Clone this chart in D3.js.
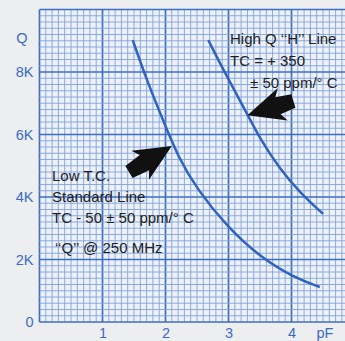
<!DOCTYPE html>
<html>
<head>
<meta charset="utf-8">
<script src="https://cdn.jsdelivr.net/npm/d3@7"></script>
<style>
    body { margin: 0; background: #eceef0; }
    svg { display: block; }
    .tick text { font-family: "Liberation Sans", Arial, sans-serif; }
</style>
</head>
<body>
<div id="chart"></div>
<script>
    "use strict";

    //curve readings off the scanned sheet: capacitance (pF) vs Q
    var lowPf  = [1.48, 1.70, 1.96, 2.20, 2.50, 2.98, 3.50, 4.02, 4.45];
    var lowQ   = [9020, 7750, 6460, 5280, 4250, 3040, 2080, 1440, 1120];
    var highPf = [2.68, 2.94, 3.29, 3.50, 3.82, 4.14, 4.50];
    var highQ  = [9020, 7980, 6690, 5860, 4880, 4130, 3460];
    var yTicks = [0, 2000, 4000, 6000, 8000];
    var yTickLabels = ["0", "2K", "4K", "6K", "8K"];
    var xTicks = [1, 2, 3, 4];
    var lowNotes = ["Low T.C.", "Standard Line", "TC - 50 \u00b1 50 ppm/\u00b0 C"];
    var freqNote = "\u2018\u2018Q\u2019\u2019 @ 250 MHz";
    var highNotes = ["High Q \u2018\u2018H\u2019\u2019 Line", "TC = + 350", "\u00b1 50 ppm/\u00b0 C"];

    var W = 345, H = 341,
        m = {left: 39.5, top: 9.5, bottom: 322},
        blue = "#3a6cc4", ink = "#1e1e1e";

    var svg = d3.select("#chart").append("svg")
        .attr("width", W).attr("height", H);

    var x = d3.scaleLinear().domain([0, 5]).range([m.left, m.left + 315]);
    var y = d3.scaleLinear().domain([0, 10000]).range([m.bottom, m.top]);

    //graph paper
    svg.append("rect")
        .attr("x", x(0)).attr("y", y(10000))
        .attr("width", W - x(0)).attr("height", y(0) - y(10000))
        .attr("fill", "#eef2f8");

    var grid = svg.append("g");
    d3.range(0, 50.5, 1).forEach(function (i) {
        var v = i / 10, major = i % 10 === 0;
        grid.append("line")
            .attr("x1", x(v)).attr("x2", x(v))
            .attr("y1", y(0)).attr("y2", y(10000))
            .attr("stroke", major ? "#3d6ec6" : "#7fa3dc")
            .attr("stroke-width", major ? 1.7 : 0.9);
    });
    d3.range(0, 50.5, 1).forEach(function (i) {
        var v = i * 200, major = i % 10 === 0;
        grid.append("line")
            .attr("x1", x(0)).attr("x2", W)
            .attr("y1", y(v)).attr("y2", y(v))
            .attr("stroke", major ? "#3d6ec6" : "#7fa3dc")
            .attr("stroke-width", major ? 1.7 : 0.9);
    });

    //axes
    var yAxis = d3.axisLeft(y).tickValues(yTicks).tickSize(0).tickPadding(6)
        .tickFormat(function (d, i) { return yTickLabels[i]; });
    var gy = svg.append("g").attr("transform", "translate(" + x(0) + ",0)").call(yAxis);
    var xAxis = d3.axisBottom(x).tickValues(xTicks).tickSize(0).tickPadding(6)
        .tickFormat(d3.format("d"));
    var gx = svg.append("g").attr("transform", "translate(0," + y(0) + ")").call(xAxis);
    [gx, gy].forEach(function (g) {
        g.select(".domain").remove();
        g.selectAll("text").attr("fill", blue).attr("font-size", 14.5);
    });
    svg.append("text").attr("x", 22).attr("y", y(9100)).attr("dy", "0.35em")
        .attr("text-anchor", "middle").attr("fill", blue).attr("font-size", 14.5)
        .attr("font-family", "Liberation Sans, Arial, sans-serif").text("Q");
    svg.append("text").attr("x", x(4.53)).attr("y", 337.5)
        .attr("text-anchor", "middle").attr("fill", blue).attr("font-size", 14.5)
        .attr("font-family", "Liberation Sans, Arial, sans-serif").text("pF");

    //curves
    var line = d3.line()
        .x(function (d) { return x(d[0]); })
        .y(function (d) { return y(d[1]); })
        .curve(d3.curveBasis);
    [[lowPf, lowQ], [highPf, highQ]].forEach(function (s) {
        svg.append("path")
            .datum(d3.zip(s[0], s[1]))
            .attr("d", line)
            .attr("fill", "none")
            .attr("stroke", "#2f63bf")
            .attr("stroke-width", 2.5);
    });

    //block arrows pointing at each curve
    function arrow (tip, tail) {
        var tx = x(tip[0]), ty = y(tip[1]), sx = x(tail[0]), sy = y(tail[1]),
            len = Math.hypot(tx - sx, ty - sy),
            ang = Math.atan2(ty - sy, tx - sx) * 180 / Math.PI,
            hl = 32, hw = 17, sw = 7;
        svg.append("path")
            .attr("transform", "translate(" + sx + "," + sy + ") rotate(" + ang + ")")
            .attr("d", "M0," + (-sw) + "L" + (len - hl) + "," + (-sw - 2) +
                  "L" + (len - hl - 5) + "," + (-hw) + "L" + len + ",0" +
                  "L" + (len - hl - 5) + "," + hw + "L" + (len - hl) + "," + (sw + 2) +
                  "L0," + sw + "Z")
            .attr("fill", "#111");
    }
    arrow([2.1, 5630], [1.42, 4800]);
    arrow([3.3, 6620], [4.03, 7070]);

    //notes
    function notes (lines, px, py, dy) {
        svg.append("g").selectAll("text").data(lines).enter().append("text")
            .attr("x", function (d, i) { return px[i] !== undefined ? px[i] : px[0]; })
            .attr("y", function (d, i) { return py + i * dy; })
            .attr("fill", ink)
            .attr("font-size", 15)
            .attr("font-family", "Liberation Sans, Arial, sans-serif")
            .text(function (d) { return d; });
    }
    notes(lowNotes, [52], 181, 21);
    notes([freqNote], [55], 253, 0);
    notes(highNotes, [230, 230, 250], 44, 22);
</script>
</body>
</html>
